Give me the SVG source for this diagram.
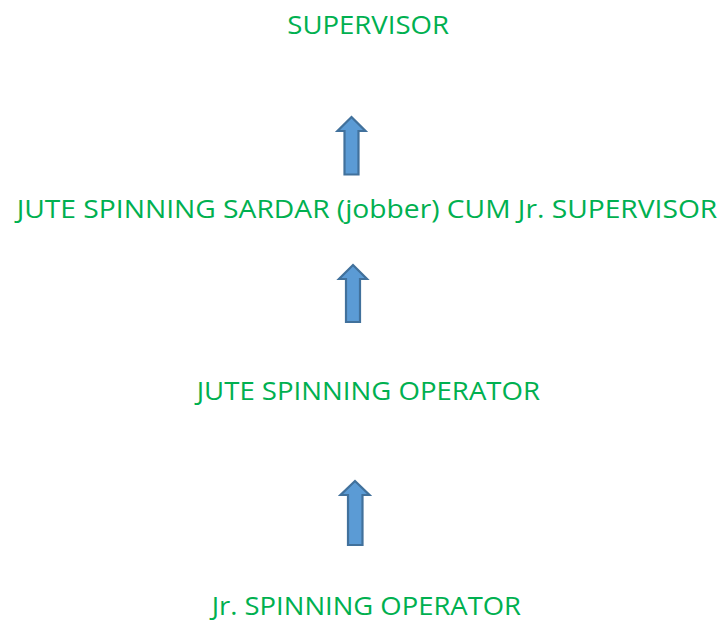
<svg xmlns="http://www.w3.org/2000/svg" width="725" height="621" viewBox="0 0 725 621">
<style>
.t{font-family:"Open Sans","Liberation Sans",sans-serif;font-size:25.5px;fill:#00B050}
.arr{fill:#5B9BD5;stroke:#41719C;stroke-width:2.2;stroke-linejoin:miter}
</style>
<rect width="725" height="621" fill="#ffffff"/>
<g id="n1"><text class="t" x="287.3" y="34.3" textLength="161.7" lengthAdjust="spacingAndGlyphs">SUPERVISOR</text></g>
<g id="n2"><text class="t" x="16.7" y="218.3" textLength="700.6" lengthAdjust="spacingAndGlyphs">JUTE SPINNING SARDAR (jobber) CUM Jr. SUPERVISOR</text></g>
<g id="n3"><text class="t" x="196.7" y="400" textLength="343.3" lengthAdjust="spacingAndGlyphs">JUTE SPINNING OPERATOR</text></g>
<g id="n4"><text class="t" x="211.7" y="615" textLength="309.3" lengthAdjust="spacingAndGlyphs">Jr. SPINNING OPERATOR</text></g>
<g id="connectors">
<path class="arr" d="M351.5,117 L365.5,131 L358.5,131 L358.5,174.5 L344.5,174.5 L344.5,131 L337.5,131 Z"/>
<path class="arr" d="M353,265 L367,279 L360,279 L360,322 L346,322 L346,279 L339,279 Z"/>
<path class="arr" d="M355,481 L369.5,495 L362.5,495 L362.5,545 L348,545 L348,495 L340.5,495 Z"/>
</g>
</svg>
